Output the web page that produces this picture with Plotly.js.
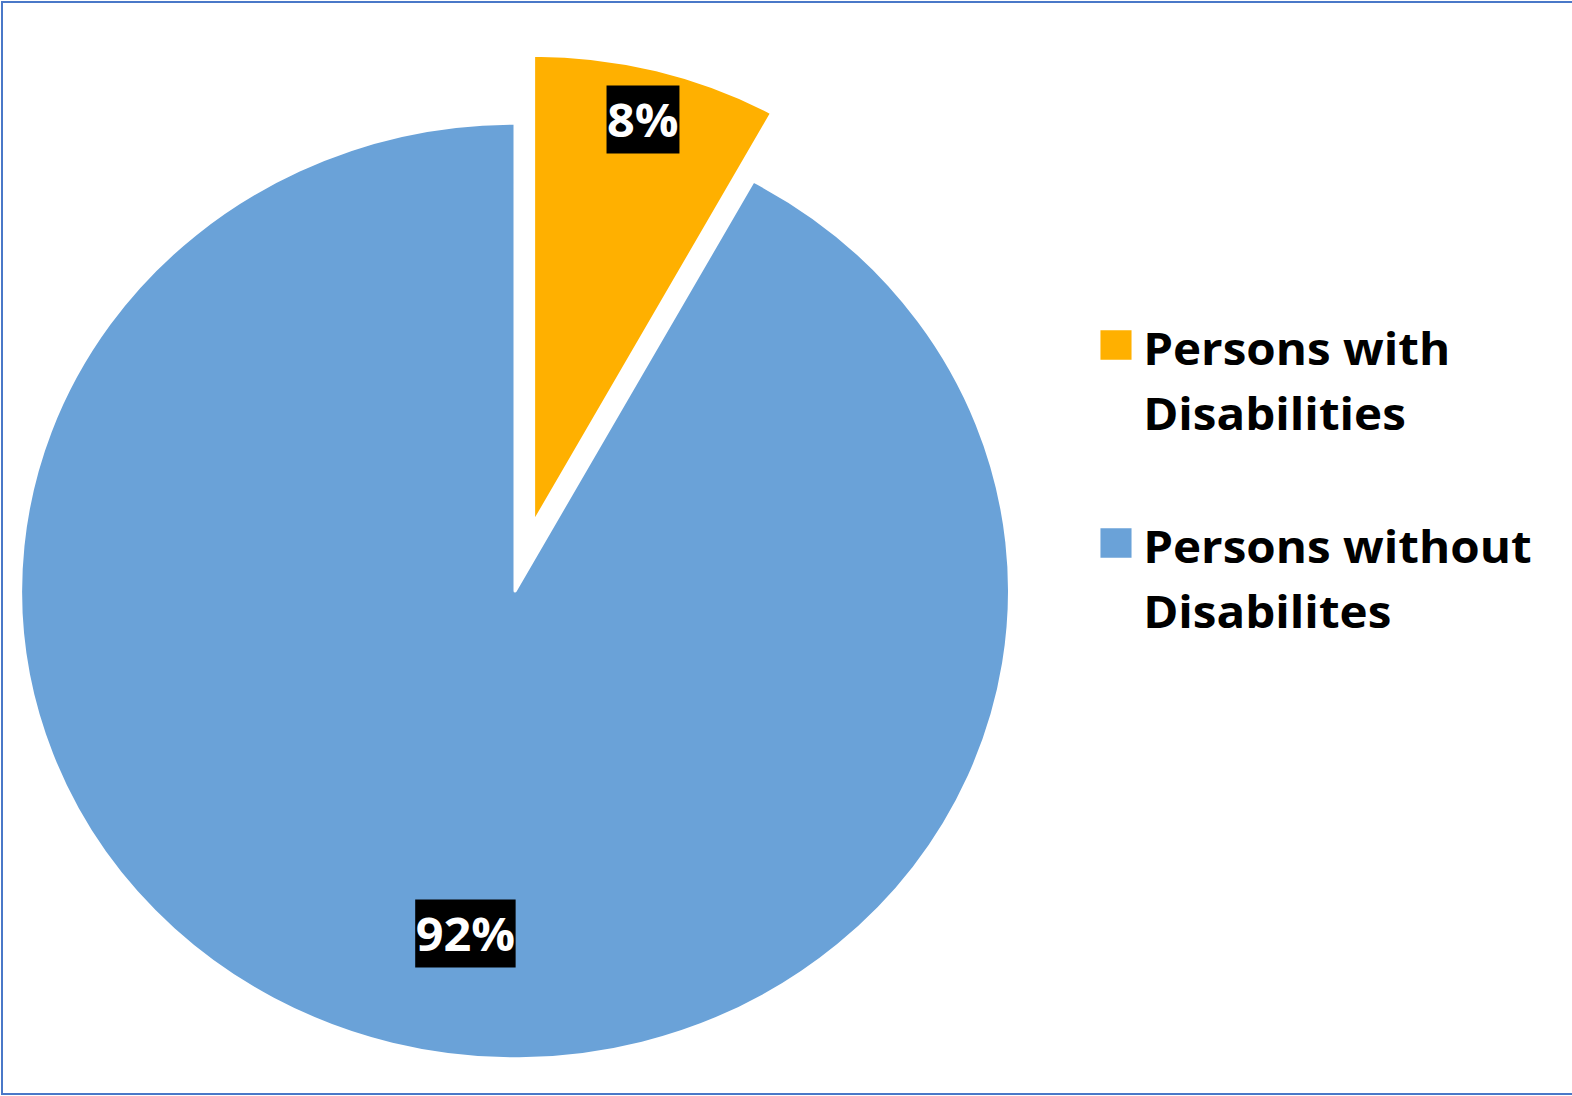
<!DOCTYPE html>
<html>
<head>
<meta charset="utf-8">
<script src="https://cdn.plot.ly/plotly-3.0.1.min.js"></script>
<style>
  html, body { margin: 0; padding: 0; width: 1572px; height: 1096px; overflow: hidden; background: #fff; }
  #frame { position: absolute; left: 1px; top: 1px; width: 1580px; height: 1094px; box-sizing: border-box;
           border-left: 2px solid #4a78c8; border-top: 2px solid #4a78c8; border-bottom: 2px solid #4a78c8;
           pointer-events: none; z-index: 5; }
  #wrap { position: absolute; left: -80px; top: 0; transform: scaleX(1.057); transform-origin: 0 0; }
</style>
</head>
<body>
<div id="wrap"><div id="chart"></div></div>
<div id="frame"></div>
<script>
// ---- data ----
var categories = ['Persons with Disabilities', 'Persons without Disabilites'];
var shares = [8, 92];
var sliceColors = ['#FFB000', '#6AA2D8'];
var pulls = [0.15, 0];

// ---- style / geometry config ----
var DIV_W = 1563, DIV_H = 1129;
var PLOT = 1076;
var M = {l: 25, t: 53, r: DIV_W - 25 - PLOT, b: DIV_H - 53 - PLOT};
var labelFrac = [0.89, 0.74];     // distance of the label from the slice centre, in radii
var labelTurnDeg = [0, -6.6];     // small angular nudge of the label from the bisector
var FONT = 'Open Sans, Noto Sans, sans-serif';

function lineSpan(s) { return '<span style="font-size:45px">' + s + '</span>'; }
var legendLabels = categories.map(function (c) {
  var k = c.lastIndexOf(' ');
  return lineSpan(c.slice(0, k)) + '<br>' + lineSpan(c.slice(k + 1)) + '<br>&nbsp;';
});

var total = shares.reduce(function (a, b) { return a + b; }, 0);
var pctText = shares.map(function (v) { return Math.round(v / total * 100) + '%'; });

// pie geometry as Plotly computes it
var pw = DIV_W - M.l - M.r, ph = DIV_H - M.t - M.b;
var maxPull = Math.max.apply(null, pulls);
var cx = M.l + pw / 2, cy = M.t + ph / 2;
var R = Math.min(pw, ph) / 2 / (1 + maxPull);

var annotations = [];
var cum = 0;
shares.forEach(function (v, i) {
  var a0 = cum / total * 2 * Math.PI;
  cum += v;
  var a1 = cum / total * 2 * Math.PI;
  var mid = (a0 + a1) / 2;
  var pcx = cx + pulls[i] * R * Math.sin(mid);
  var pcy = cy - pulls[i] * R * Math.cos(mid);
  var la = mid + labelTurnDeg[i] * Math.PI / 180;
  var px = pcx + labelFrac[i] * R * Math.sin(la);
  var py = pcy - labelFrac[i] * R * Math.cos(la);
  annotations.push({
    xref: 'paper', yref: 'paper',
    x: (px - M.l) / pw, y: 1 - (py - M.t) / ph,
    xanchor: 'center', yanchor: 'middle',
    text: pctText[i], showarrow: false,
    font: {family: FONT, size: 46, color: '#ffffff', weight: 'bold'},
    bgcolor: '#000000', borderpad: 0, height: 67
  });
});

var trace = {
  type: 'pie',
  labels: legendLabels,
  values: shares,
  sort: false,
  direction: 'clockwise',
  rotation: 0,
  pull: pulls,
  textinfo: 'none',
  hoverinfo: 'none',
  marker: {colors: sliceColors, line: {color: '#ffffff', width: 3}},
  domain: {x: [0, 1], y: [0, 1]}
};

var LEG_X = 1101.2;
var layout = {
  width: DIV_W, height: DIV_H,
  margin: {l: M.l, r: M.r, t: M.t, b: M.b, autoexpand: false},
  paper_bgcolor: 'rgba(0,0,0,0)',
  plot_bgcolor: 'rgba(0,0,0,0)',
  showlegend: true,
  legend: {
    xref: 'container', yref: 'container',
    x: LEG_X / DIV_W, y: 1 - 306 / DIV_H,
    xanchor: 'left', yanchor: 'top',
    valign: 'top',
    itemwidth: 46,
    font: {family: FONT, size: 50, color: '#000000', weight: 'bold'},
    bgcolor: 'rgba(0,0,0,0)', borderwidth: 0
  },
  annotations: annotations
};

Plotly.newPlot('chart', [trace], layout, {displayModeBar: false, staticPlot: true}).then(function () {
  document.querySelectorAll('#chart .legend .legendpoints path').forEach(function (p) {
    p.setAttribute('transform', 'translate(30.3,0) scale(2.45)');
    p.style.strokeWidth = '0px';
  });
});
</script>
</body>
</html>
